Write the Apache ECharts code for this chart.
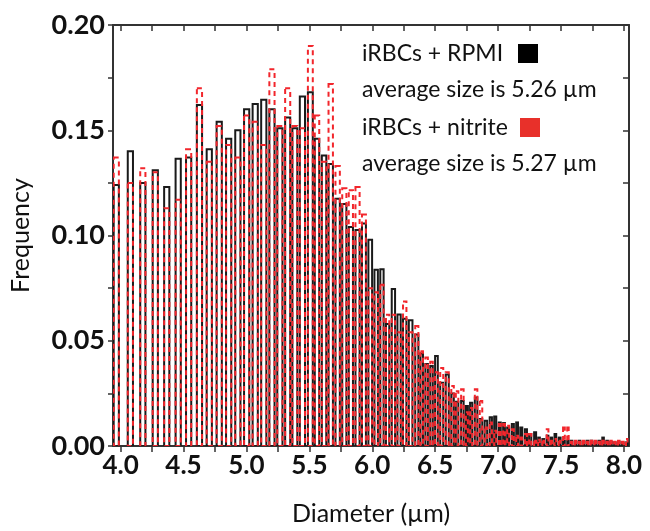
<!DOCTYPE html>
<html><head><meta charset="utf-8">
<script src="https://cdn.jsdelivr.net/npm/echarts@6/dist/echarts.min.js"></script>
<style>html,body{margin:0;padding:0;background:#fff}#c{width:650px;height:531px}</style>
</head><body><div id="c"></div>
<script>
// Bin centres (µm)
const binCenters = [3.966,4.078,4.177,4.276,4.367,4.458,4.541,4.627,4.705,4.784,
4.859,4.932,5.002,5.070,5.138,5.203,5.266,5.328,5.385,5.445,
5.508,5.561,5.617,5.670,5.725,5.778,5.830,5.883,5.934,5.984,
6.031,6.077,6.122,6.168,6.213,6.258,6.305,6.354,6.393,6.432,
6.471,6.510,6.552,6.596,6.638,6.674,6.716,6.752,6.786,6.825,
6.864,6.903,6.942,6.977,7.013,7.047,7.080,7.117,7.151,7.184,
7.221,7.255,7.294,7.325,7.359,7.393,7.424,7.455,7.489,7.523,
7.555,7.584,7.616,7.647,7.678,7.709,7.741,7.772,7.803,7.834,
7.866,7.897,7.928,7.959,7.991,8.022];
// iRBCs + RPMI (black)
const rpmiFreq = [0.124,0.140,0.125,0.131,0.123,0.1365,0.137,0.162,0.141,0.154,
0.146,0.150,0.160,0.1625,0.1645,0.160,0.151,0.156,0.151,0.166,
0.168,0.146,0.138,0.134,0.1175,0.115,0.104,0.1026,0.1057,0.098,
0.0837,0.084,0.058,0.0746,0.0625,0.0604,0.0597,0.053,0.044,0.039,
0.038,0.0427,0.030,0.034,0.025,0.021,0.0214,0.019,0.0206,0.023,
0.0128,0.012,0.0136,0.014,0.0112,0.0109,0.0088,0.0104,0.0112,0.0088,
0.008,0.0057,0.0065,0.004,0.0033,0.0049,0.004,0.0057,0.004,0.0025,
0.0025,0.0025,0.002,0.0025,0.002,0.0025,0.0025,0.002,0.0025,0.004,
0.0025,0.002,0.0017,0.002,0.0017,0.0017];
// iRBCs + nitrite (red)
const nitriteFreq = [0.137,0.125,0.132,0.130,0.113,0.117,0.141,0.170,0.135,0.152,
0.143,0.137,0.157,0.154,0.143,0.179,0.152,0.170,0.152,0.151,
0.190,0.157,0.135,0.172,0.133,0.1225,0.1215,0.123,0.110,0.075,
0.073,0.0766,0.0624,0.0624,0.054,0.0687,0.054,0.057,0.045,0.042,
0.040,0.035,0.037,0.035,0.0285,0.026,0.027,0.016,0.018,0.027,
0.0214,0.0088,0.0112,0.0072,0.0104,0.0104,0.0096,0.008,0.0049,0.004,
0.0057,0.0057,0.0025,0.003,0.0025,0.008,0.0025,0.0033,0.0025,0.0088,
0.0088,0.002,0.0025,0.002,0.0025,0.002,0.0025,0.0025,0.002,0.0025,
0.002,0.0025,0.002,0.0025,0.002,0.0033];
const xTickValues = [4.0,4.25,4.5,4.75,5.0,5.25,5.5,5.75,6.0,6.25,6.5,6.75,7.0,7.25,7.5,7.75,8.0];
const xLabelValues = [4.0,4.5,5.0,5.5,6.0,6.5,7.0,7.5,8.0];
const yTickValues = [0,0.025,0.05,0.075,0.1,0.125,0.15,0.175,0.2];
const yLabelValues = [0,0.05,0.1,0.15,0.2];
const legendLines = ['iRBCs + RPMI','average size is 5.26 µm','iRBCs + nitrite','average size is 5.27 µm'];

const FONT = 'Lato';
const chart = echarts.init(document.getElementById('c'), null, {renderer:'canvas'});

function makeRender(isRed){
  return function(params, api){
    const i = params.dataIndex;
    const c = binCenters[i];
    const prev = i>0 ? binCenters[i-1] : 2*c - binCenters[i+1];
    const next = i<binCenters.length-1 ? binCenters[i+1] : 2*c - binCenters[i-1];
    const pL = api.coord([(prev+c)/2, 0]), pR = api.coord([(c+next)/2, 0]);
    const binW = pR[0]-pL[0];
    const w = Math.min(5.2, binW-2.4);
    const top = api.coord([c, api.value(1)]);
    const base = api.coord([c, 0]);
    return {
      type:'rect',
      shape:{x: top[0]-w/2, y: top[1], width: w, height: base[1]-top[1]},
      style: isRed ? {fill:'none', stroke:'#f2262c', lineWidth:2, lineDash:[5,4]}
                   : {fill:'#fff', stroke:'#1a1a1a', lineWidth:2}
    };
  };
}

const axisLineStyle = {color:'#333', width:2};
const option = {
  animation:false,
  grid:{left:104, right:21, top:25, bottom:84},
  xAxis:[{
    type:'value', min:3.94, max:8.04, position:'bottom',
    axisLine:{show:true, onZero:false, lineStyle:axisLineStyle},
    axisTick:{show:true, inside:false, length:6, lineStyle:{color:'#333', width:1.5}, customValues:xTickValues},
    axisLabel:{show:true, customValues:xLabelValues, formatter:v=>v.toFixed(1), color:'#111', fontFamily:FONT, fontWeight:'bold', fontSize:26, margin:7},
    splitLine:{show:false},
    name:'Diameter (µm)', nameLocation:'middle', nameGap:55,
    nameTextStyle:{fontFamily:FONT, fontSize:25, color:'#111'}
  },{
    type:'value', min:3.94, max:8.04, position:'top',
    axisLine:{show:true, onZero:false, lineStyle:axisLineStyle},
    axisTick:{show:true, inside:true, length:6, lineStyle:{color:'#333', width:1.5}, customValues:xTickValues},
    axisLabel:{show:false}, splitLine:{show:false}
  }],
  yAxis:[{
    type:'value', min:0, max:0.2, position:'left',
    axisLine:{show:true, onZero:false, lineStyle:axisLineStyle},
    axisTick:{show:true, inside:false, length:5, lineStyle:{color:'#333', width:1.5}, customValues:yTickValues},
    axisLabel:{show:true, customValues:yLabelValues, formatter:v=>v.toFixed(2), color:'#111', fontFamily:FONT, fontWeight:'bold', fontSize:27, margin:8},
    splitLine:{show:false},
    name:'Frequency', nameLocation:'middle', nameGap:80,
    nameTextStyle:{fontFamily:FONT, fontSize:25, color:'#111'}
  },{
    type:'value', min:0, max:0.2, position:'right',
    axisLine:{show:true, onZero:false, lineStyle:axisLineStyle},
    axisTick:{show:true, inside:true, length:6, lineStyle:{color:'#333', width:1.5}, customValues:yTickValues},
    axisLabel:{show:false}, splitLine:{show:false}
  }],
  series:[{
    type:'custom', xAxisIndex:0, yAxisIndex:0, clip:true,
    data: binCenters.map((c,i)=>[c, rpmiFreq[i]]),
    renderItem: makeRender(false), z:2
  },{
    type:'custom', xAxisIndex:0, yAxisIndex:0, clip:true,
    data: binCenters.map((c,i)=>[c, nitriteFreq[i]]),
    renderItem: makeRender(true), z:3
  }],
  graphic:[
    {type:'text', left:362, top:42, style:{text:legendLines[0], font:'23px '+FONT, fill:'#111'}},
    {type:'rect', left:518, top:44, shape:{width:20, height:19}, style:{fill:'#000'}},
    {type:'text', left:362, top:78, style:{text:legendLines[1], font:'23px '+FONT, fill:'#111'}},
    {type:'text', left:362, top:116, style:{text:legendLines[2], font:'23px '+FONT, fill:'#111'}},
    {type:'rect', left:520, top:118, shape:{width:20, height:19}, style:{fill:'#e8302a'}},
    {type:'text', left:362, top:152, style:{text:legendLines[3], font:'23px '+FONT, fill:'#111'}}
  ]
};
chart.setOption(option);
</script></body></html>
